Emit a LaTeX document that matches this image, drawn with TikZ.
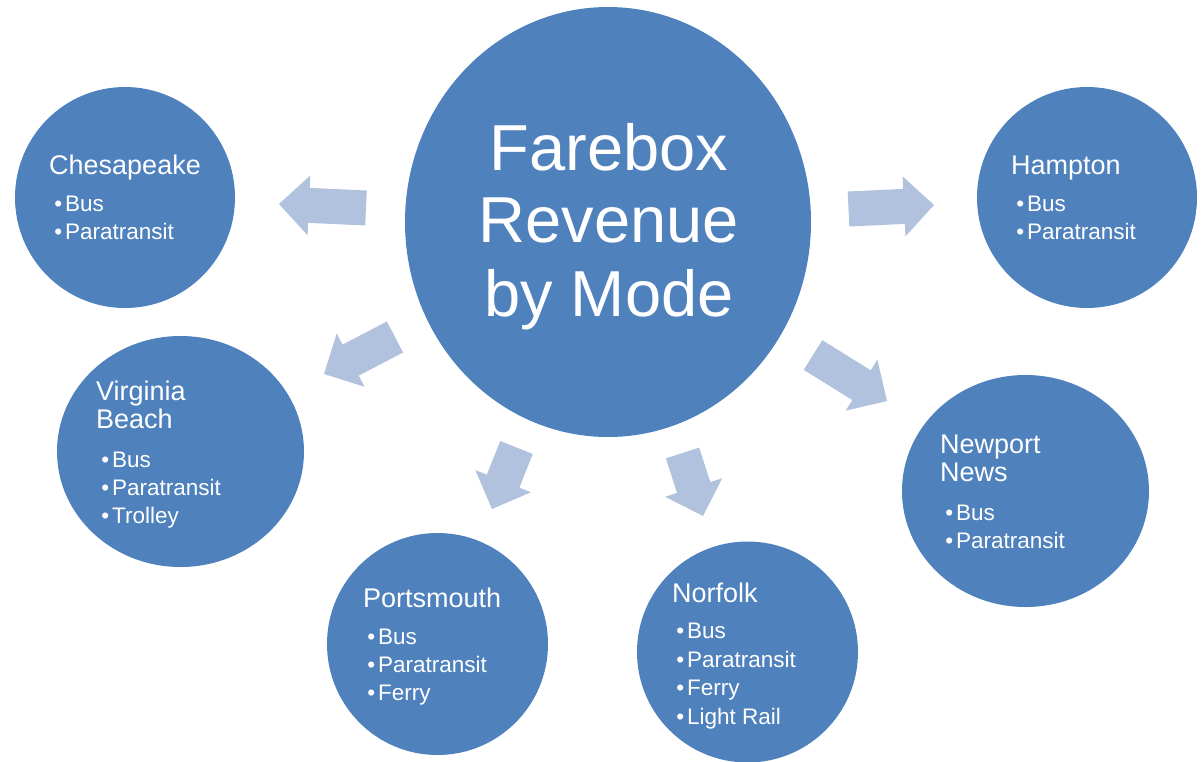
\documentclass[tikz,border=0pt]{standalone}
\usepackage{fontspec}
\setmainfont{Liberation Sans}
\usetikzlibrary{shapes.geometric,calc}
\definecolor{circblue}{HTML}{4F81BD}
\definecolor{arrblue}{HTML}{B1C2DE}
\tikzset{
  circ/.style={ellipse, fill=circblue, inner sep=0pt, outer sep=0pt},
  bigtitle/.style={anchor=base, text=white, inner sep=0pt, font=\fontsize{65}{73}\selectfont},
  ctitle/.style={anchor=base west, text=white, inner sep=0pt, font=\fontsize{27}{28}\selectfont},
  bulletitem/.style={anchor=base west, text=white, inner sep=0pt, font=\fontsize{22.5}{28}\selectfont},
  arrowfill/.style={fill=arrblue}
}
\newcommand\blockarrow[2]{%
  \coordinate (#1h) at ($(#2)!30pt!(#1)$);
  \fill[arrowfill] ($(#1)!17.5pt!90:(#2)$) -- ($(#1h)!17.5pt!90:(#2)$) -- ($(#1h)!30pt!90:(#2)$) -- (#2)
    -- ($(#1h)!30pt!-90:(#2)$) -- ($(#1h)!17.5pt!-90:(#2)$) -- ($(#1)!17.5pt!-90:(#2)$) -- cycle;
}
\newcommand\bitem[3]{\node[bulletitem] (#1) at (#2) {\llap{•\hspace{3pt}}#3};}
\begin{document}
\begin{tikzpicture}[x=1pt,y=-1pt]
\useasboundingbox (0,0) rectangle (1202,761);
% circles
\node[circ, minimum width=406pt, minimum height=430pt] (center) at (608,222) {};
\node[circ, minimum width=220pt, minimum height=221pt] (ches) at (125,197.5) {};
\node[circ, minimum width=220pt, minimum height=221pt] (hamp) at (1087,197.5) {};
\node[circ, minimum width=247pt, minimum height=231pt] (vb) at (180.5,451.5) {};
\node[circ, minimum width=247pt, minimum height=232pt] (nn) at (1025.5,491) {};
\node[circ, minimum width=221pt, minimum height=222pt] (ports) at (437.5,644) {};
\node[circ, minimum width=221pt, minimum height=221pt] (norf) at (747.5,652) {};
% center text
\node[bigtitle] (t1) at (609,170) {Farebox};
\node[bigtitle] (t2) at (609,242) {Revenue};
\node[bigtitle] (t3) at (609,316) {by Mode};
% Chesapeake
\node[ctitle] (chest) at (49,174) {Chesapeake};
\bitem{chesa}{65,211}{Bus}
\bitem{chesb}{65,239}{Paratransit}
% Hampton
\node[ctitle] (hampt) at (1011,174) {Hampton};
\bitem{hampa}{1027,211}{Bus}
\bitem{hampb}{1027,239}{Paratransit}
% Virginia Beach
\node[ctitle] (vbt1) at (96,400) {Virginia};
\node[ctitle] (vbt2) at (96,428) {Beach};
\bitem{vba}{112,467}{Bus}
\bitem{vbb}{112,495}{Paratransit}
\bitem{vbc}{112,523}{Trolley}
% Newport News
\node[ctitle] (nnt1) at (940,453) {Newport};
\node[ctitle] (nnt2) at (940,481) {News};
\bitem{nna}{956,520}{Bus}
\bitem{nnb}{956,548}{Paratransit}
% Portsmouth
\node[ctitle] (portt) at (363,607) {Portsmouth};
\bitem{porta}{378,644}{Bus}
\bitem{portb}{378,672}{Paratransit}
\bitem{portc}{378,700}{Ferry}
% Norfolk
\node[ctitle] (norft) at (672,602) {Norfolk};
\bitem{norfa}{687,638}{Bus}
\bitem{norfb}{687,667}{Paratransit}
\bitem{norfc}{687,695}{Ferry}
\bitem{norfd}{687,724}{Light Rail}
% arrows
\coordinate (a1) at (366,208); \coordinate (b1) at (279,204);
\coordinate (a2) at (848.5,209); \coordinate (b2) at (934,205);
\coordinate (a3) at (395,337); \coordinate (b3) at (324,374);
\coordinate (a4) at (813,355); \coordinate (b4) at (887,401);
\coordinate (a5) at (516.5,447.5); \coordinate (b5) at (492,509);
\coordinate (a6) at (682.5,453); \coordinate (b6) at (703,516);
\blockarrow{a1}{b1}
\blockarrow{a2}{b2}
\blockarrow{a3}{b3}
\blockarrow{a4}{b4}
\blockarrow{a5}{b5}
\blockarrow{a6}{b6}
\end{tikzpicture}
\end{document}
